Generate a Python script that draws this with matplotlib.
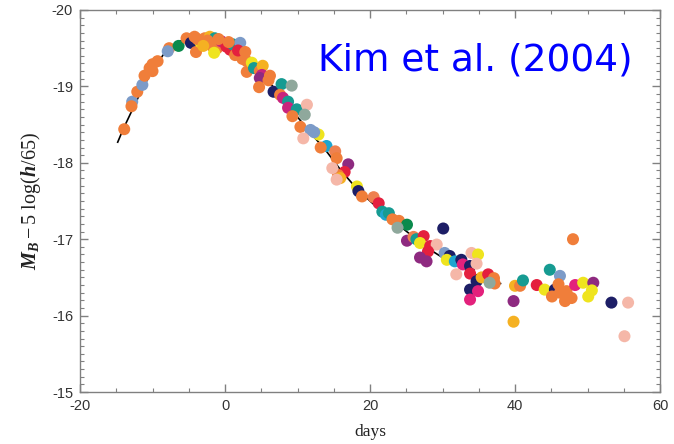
import numpy as np
import matplotlib
matplotlib.use('Agg')
import matplotlib.pyplot as plt
from matplotlib.ticker import MultipleLocator

plt.rcParams['axes.unicode_minus'] = False
plt.rcParams['mathtext.fontset'] = 'custom'
plt.rcParams['mathtext.rm'] = 'Liberation Serif'
plt.rcParams['mathtext.it'] = 'Liberation Serif:italic:bold'
plt.rcParams['mathtext.bf'] = 'Liberation Serif:bold'

# palette of the individual supernovae
palette = {
    'orange': '#f07e3a', 'coral': '#ee8150', 'gold': '#f5b122', 'yellow': '#efe41e',
    'navy': '#1d1e66', 'teal': '#169b92', 'green': '#0a8a4c', 'cyan': '#1ea5cf',
    'steel': '#7c9bc8', 'pink': '#f5b7a8', 'graygreen': '#8fa89c', 'red': '#e4203e',
    'magenta': '#c8247d', 'purple': '#8e2a80', 'rose': '#e3217c',
}

day = [-13.9, -12.8, -12.9, -12.1, -11.4, -11.1, -10.4, -10.0, -9.3, -10.0,
       -7.7, -6.4, -5.3, -4.7, -4.2, -4.0, -3.4, -2.8, -2.1, -1.4,
       -1.8, -1.1, -1.5, -0.5, 0.2, 0.7, 1.1, 2.1, 1.4, 2.4,
       3.0, 3.0, 3.7, 4.0, 4.8, 5.2, 5.1, 4.8, 4.7, 6.0,
       6.7, 7.8, 9.2, 7.6, 8.0, 8.7, 8.7, 9.9, 11.3, 9.3,
       11.0, 10.4, 11.8, 10.8, 12.9, 12.3, 14.0, 13.2, 15.2, 15.4,
       17.0, 16.5, 15.6, 14.8, 15.9, 15.4, 18.2, 18.4, 18.9, 20.5,
       21.2, 21.7, 22.2, 22.6, 23.1, 24.0, 25.1, 23.8, 25.1, 26.0,
       26.4, 27.4, 26.9, 28.3, 29.2, 28.0, 26.9, 27.8, 30.1, 30.3,
       31.0, 30.6, 31.7, 32.6, 34.0, 34.9, 32.8, 33.8, 34.7, 31.9,
       33.8, 34.7, 35.4, 36.3, 37.1, 37.2, 36.5, 33.8, 34.9, 33.8,
       40.0, 40.7, 41.1, 39.8, 39.8, 43.0, 44.1, 44.8, 46.2, 45.5,
       46.0, 45.1, 46.2, 47.1, 46.9, 47.8, 48.0, 48.3, 49.4, 50.8,
       50.6, 50.1, 53.3, 55.6, 55.1,
       -3.8, -2.4, -0.9, 0.5, -3.0, 1.8, 2.8, -7.9, 6.2]

mag = [-18.44, -18.80, -18.74, -18.93, -19.02, -19.14, -19.24, -19.29, -19.33, -19.20,
       -19.50, -19.53, -19.63, -19.57, -19.65, -19.45, -19.58, -19.63, -19.65, -19.63,
       -19.53, -19.50, -19.44, -19.59, -19.52, -19.48, -19.55, -19.57, -19.41, -19.36,
       -19.33, -19.19, -19.31, -19.24, -19.20, -19.27, -19.15, -19.11, -18.99, -19.08,
       -18.93, -19.03, -19.01, -18.89, -18.85, -18.80, -18.72, -18.70, -18.76, -18.61,
       -18.63, -18.47, -18.43, -18.32, -18.37, -18.40, -18.22, -18.20, -18.15, -18.06,
       -17.98, -17.88, -17.84, -17.93, -17.80, -17.78, -17.69, -17.63, -17.56, -17.55,
       -17.47, -17.36, -17.32, -17.34, -17.26, -17.24, -17.19, -17.15, -16.98, -17.03,
       -17.00, -17.04, -16.95, -16.91, -16.93, -16.84, -16.76, -16.71, -17.14, -16.82,
       -16.78, -16.73, -16.71, -16.73, -16.82, -16.80, -16.67, -16.65, -16.68, -16.54,
       -16.55, -16.45, -16.50, -16.54, -16.49, -16.42, -16.43, -16.34, -16.32, -16.21,
       -16.39, -16.39, -16.46, -16.19, -15.92, -16.40, -16.34, -16.60, -16.52, -16.34,
       -16.41, -16.25, -16.30, -16.32, -16.19, -16.23, -17.00, -16.40, -16.43, -16.43,
       -16.33, -16.25, -16.17, -16.17, -15.73,
       -19.62, -19.60, -19.62, -19.58, -19.53, -19.47, -19.45, -19.46, -19.14]

col = ['orange', 'steel', 'orange', 'orange', 'steel', 'orange', 'orange', 'orange', 'orange', 'orange',
       'orange', 'green', 'orange', 'navy', 'orange', 'orange', 'yellow', 'orange', 'gold', 'teal',
       'orange', 'orange', 'yellow', 'magenta', 'red', 'red', 'teal', 'steel', 'orange', 'orange',
       'orange', 'orange', 'yellow', 'teal', 'orange', 'gold', 'magenta', 'purple', 'orange', 'orange',
       'navy', 'teal', 'graygreen', 'orange', 'magenta', 'teal', 'magenta', 'teal', 'pink', 'orange',
       'graygreen', 'orange', 'steel', 'pink', 'yellow', 'steel', 'cyan', 'orange', 'coral', 'orange',
       'purple', 'red', 'orange', 'pink', 'gold', 'pink', 'yellow', 'navy', 'orange', 'coral',
       'red', 'teal', 'cyan', 'teal', 'orange', 'orange', 'green', 'graygreen', 'purple', 'coral',
       'teal', 'red', 'yellow', 'red', 'pink', 'red', 'purple', 'purple', 'navy', 'steel',
       'navy', 'yellow', 'cyan', 'navy', 'pink', 'yellow', 'rose', 'navy', 'pink', 'pink',
       'red', 'navy', 'gold', 'red', 'orange', 'orange', 'graygreen', 'navy', 'rose', 'rose',
       'gold', 'orange', 'teal', 'purple', 'gold', 'red', 'yellow', 'teal', 'steel', 'navy',
       'orange', 'orange', 'orange', 'orange', 'orange', 'orange', 'orange', 'rose', 'yellow', 'purple',
       'yellow', 'yellow', 'navy', 'pink', 'pink',
       'orange', 'orange', 'orange', 'orange', 'gold', 'red', 'orange', 'steel', 'orange']

# template light curve
tmpl_day = [-14.8, -14, -12, -10, -8, -6, -4, -2, 0, 2, 4, 6, 8, 10, 12, 14,
            16, 18, 20, 22, 24, 26, 28, 30, 32, 34, 36, 38]
tmpl_mag = [-18.27, -18.45, -18.85, -19.22, -19.48, -19.60, -19.63, -19.60, -19.52,
            -19.40, -19.24, -19.06, -18.86, -18.60, -18.37, -18.15, -17.90, -17.68,
            -17.50, -17.33, -17.18, -17.03, -16.88, -16.76, -16.66, -16.56, -16.48, -16.42]

fig = plt.figure(figsize=(6.74, 4.44), dpi=100)
ax = fig.add_axes([80 / 674, 52 / 444, 580 / 674, 382 / 444])

ax.plot(tmpl_day, tmpl_mag, color='black', lw=1.2, zorder=1)
ax.scatter(day, mag, s=75, c=[palette[k] for k in col], edgecolors='none', zorder=2)

ax.set_xlim(-20, 60)
ax.set_ylim(-15, -20)
ax.xaxis.set_major_locator(MultipleLocator(20))
ax.xaxis.set_minor_locator(MultipleLocator(5))
ax.yaxis.set_major_locator(MultipleLocator(1))
ax.yaxis.set_minor_locator(MultipleLocator(0.1))

for s in ax.spines.values():
    s.set_color('#808080')
    s.set_linewidth(1.0)
ax.tick_params(which='both', direction='in', top=True, right=True, color='#808080')
ax.tick_params(which='major', length=6, width=1.0, labelsize=10.5, labelcolor='#333333', pad=5)
ax.tick_params(which='minor', length=3, width=0.8)
for lab in ax.get_xticklabels() + ax.get_yticklabels():
    lab.set_family('Liberation Sans')

ax.set_xlabel('days', family='Liberation Serif', fontsize=12.5, color='#222222', labelpad=8)
ax.set_ylabel(r'$M_B - 5\ \mathrm{log(}h\mathrm{/65)}$', fontsize=14.5, color='#222222', labelpad=6)

ax.text(0.952, 0.868, 'Kim et al. (2004)', transform=ax.transAxes, ha='right', va='center',
        fontsize=27, color='#0000ff', family='DejaVu Sans')

# title of the panel above, mostly cut by the top edge
fig.text(355 / 674, 0.999, 'days', family='Liberation Serif', fontsize=12,
         color='#444444', ha='center', va='bottom')

fig.savefig('out.png', dpi=100)
